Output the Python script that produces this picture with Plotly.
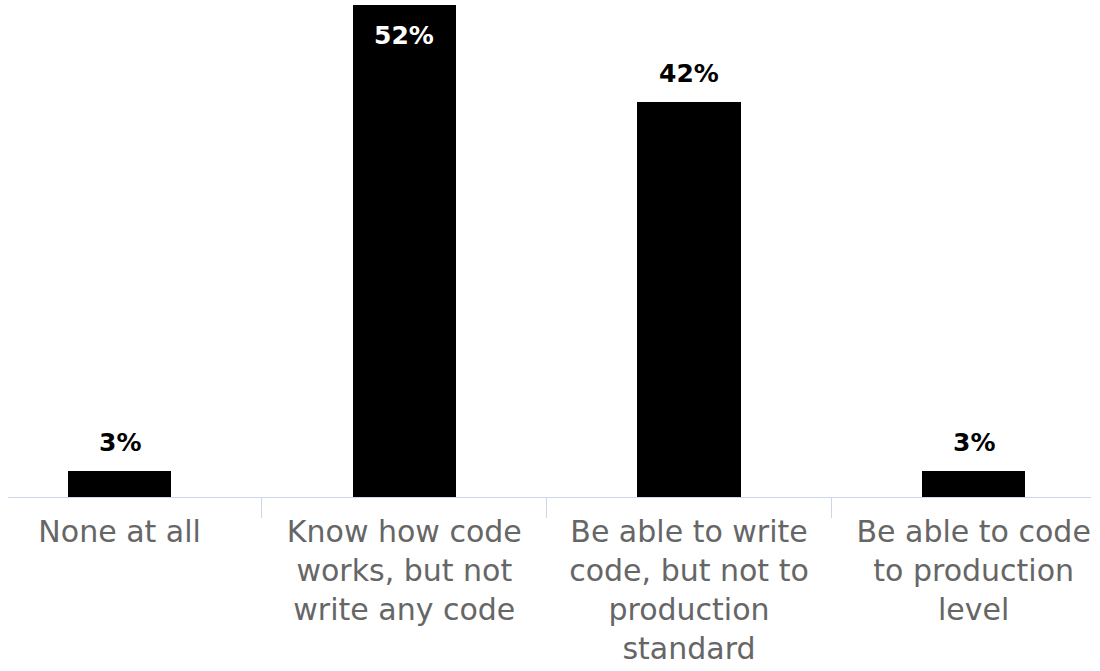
import plotly.graph_objects as go

categories = [
    "None at all",
    "Know how code<br>works, but not<br>write any code",
    "Be able to write<br>code, but not to<br>production<br>standard",
    "Be able to code<br>to production<br>level",
]
values = [2.7, 52.0, 41.7, 2.7]
y_max = 52.0

fig = go.Figure()
fig.add_trace(go.Bar(
    x=categories, y=values, marker=dict(color="#000000", line=dict(width=0)),
    width=0.362, hoverinfo="skip",
))

for c, v in zip(categories, values):
    inside = v >= y_max * 0.95
    fig.add_annotation(
        x=c, y=v, text=f"{v:.0f}%", showarrow=False,
        yanchor="top" if inside else "bottom",
        yshift=-14 if inside else 12,
        font=dict(family="DejaVu Sans", size=25, color="#ffffff" if inside else "#000000",
                  weight="bold"),
    )

fig.update_layout(
    width=1100, height=671,
    margin=dict(l=8, r=9, t=5, b=174),
    paper_bgcolor="white", plot_bgcolor="white",
    showlegend=False,
    bargap=0,
)
fig.update_xaxes(
    type="category", range=[-0.392, 3.412],
    showline=True, linecolor="#ccd6eb", linewidth=1,
    ticks="outside", tickson="boundaries", ticklen=20, tickcolor="#ccd6eb", tickwidth=1,
    ticklabelstandoff=8,
    tickfont=dict(family="DejaVu Sans", size=30, color="#666666"),
    showgrid=False, automargin=False, zeroline=False,
)
fig.update_yaxes(
    range=[0, y_max], showgrid=False, showticklabels=False, zeroline=False,
    showline=False, automargin=False,
)

fig.write_html("out.html")
